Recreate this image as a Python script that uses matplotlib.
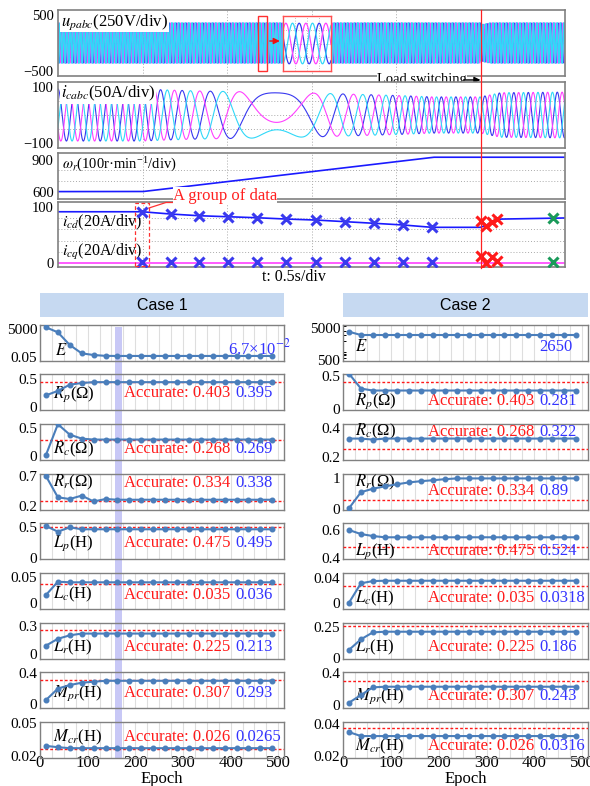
import numpy as np
import matplotlib
matplotlib.use('Agg')
import matplotlib.pyplot as plt
from matplotlib.patches import Rectangle
from matplotlib.lines import Line2D
from matplotlib.ticker import NullFormatter, LogLocator

plt.rcParams['font.family'] = ['Liberation Serif', 'DejaVu Serif']
plt.rcParams['mathtext.fontset'] = 'stix'

W, H = 590, 786

# ---------------- top: simulation waveforms ----------------
T_END = 3.0
T_SWITCH = 2.5
SPEED_T = [0.0, 0.5, 2.22, 3.0]
SPEED_N = [600, 600, 925, 925]
U_AMP = 355
U_FREQ = 50
U_ENV_T = [0.0, 2.5, 2.501, 2.56, 3.0]
U_ENV = [1.0, 1.0, 0.9, 1.0, 1.0]
ICD_T = [0.0, 0.497, 0.669, 0.834, 1.006, 1.178, 1.349, 1.527, 1.698,
         1.870, 2.041, 2.213, 2.5, 2.62, 3.0]
ICD_V = [91.6, 91.6, 87.5, 84.5, 82.7, 80.9, 78.6, 76.8, 73.9,
         71.0, 68.0, 63.8, 63.8, 78.5, 80.5]
BLUE_T = [0.497, 0.669, 0.834, 1.006, 1.178, 1.349, 1.527, 1.698, 1.870, 2.041, 2.213]
BLUE_CD = [91.6, 87.5, 84.5, 82.7, 80.9, 78.6, 76.8, 73.9, 71.0, 68.0, 63.8]
BLUE_CQ = [1.5, 1.5, 1.5, 1.5, 1.5, 1.5, 1.5, 1.5, 1.5, 1.5, 1.5]
RED_T = [2.501, 2.533, 2.566, 2.599]
RED_CD = [75.0, 66.3, 73.8, 78.6]
RED_CQ = [12.7, 0.8, 11.5, 4.3]
GREEN_T = [2.931]
GREEN_CD = [80.0]
GREEN_CQ = [2.0]

PH_COLORS = ['#3838f0', '#ff40ff', '#30d8f8']
PH_WIDTH = [0.55, 0.55, 1.1]
PH_SHIFT = [0.0, 2 * np.pi / 3, -2 * np.pi / 3]

# ---------------- bottom: parameter identification ----------------
EPOCHS = [12.5, 37.5, 62.5, 87.5, 112.5, 137.5, 162.5, 187.5, 212.5, 237.5,
          262.5, 287.5, 312.5, 337.5, 362.5, 387.5, 412.5, 437.5, 462.5, 487.5]
BAND_EPOCH = [158, 173]

NAMES = ['$E$', '$R_p$(Ω)', '$R_c$(Ω)', '$R_r$(Ω)', '$L_p$(H)', '$L_c$(H)',
         '$L_r$(H)', '$M_{pr}$(H)', '$M_{cr}$(H)']
ACCURATE = [None, '0.403', '0.268', '0.334', '0.475', '0.035', '0.225', '0.307', '0.026']
EST1 = ['6.7×10$^{-2}$', '0.395', '0.269', '0.338', '0.495', '0.036', '0.213', '0.293', '0.0265']
EST2 = ['2650', '0.281', '0.322', '0.89', '0.524', '0.0318', '0.186', '0.243', '0.0316']

E1 = [11700, 1420, 6.8, 0.2, 0.1, 0.07] + [0.067] * 14
RP1 = [0.21, 0.29, 0.40, 0.43] + [0.445] * 16
RC1 = [0.02, 0.565, 0.38, 0.31] + [0.293] * 16
RR1 = [0.70, 0.345, 0.317, 0.374, 0.276, 0.317] + [0.305] * 14
LP1 = [0.516, 0.424, 0.495] + [0.463] * 17
LC1 = [0.0154, 0.041] + [0.0398] * 18
LR1 = [0.089, 0.163, 0.2] + [0.219] * 17
MPR1 = [0.052, 0.2, 0.245, 0.275, 0.288] + [0.3] * 15
MCR1 = [0.0291, 0.0279] + [0.027] * 18

E2 = [3900] + [3080] * 19
RP2 = [0.53, 0.306] + [0.277] * 18
RC2 = [0.327, 0.327, 0.32] + [0.327] * 17
RR2 = [0.033, 0.553, 0.667, 0.743, 0.81, 0.87, 0.91, 0.94, 0.975] + [1.0] * 11
LP2 = [0.6, 0.571, 0.557] + [0.548] * 17
LC2 = [0.0, 0.0318, 0.0355] + [0.036] * 17
LR2 = [0.066, 0.15, 0.205] + [0.21] * 17
MPR2 = [0.029, 0.126, 0.223] + [0.231] * 17
MCR2 = [0.0351] + [0.0326] * 19

SERIES1 = [E1, RP1, RC1, RR1, LP1, LC1, LR1, MPR1, MCR1]
SERIES2 = [E2, RP2, RC2, RR2, LP2, LC2, LR2, MPR2, MCR2]
REF1 = [None, 0.45, 0.28, 0.29, 0.505, 0.0365, 0.256, 0.31, 0.0261]
REF2 = [None, 0.398, 0.258, 0.31, 0.476, 0.0274, 0.255, 0.303, 0.0379]
YLIM1 = [(0.008, 31000), (-0.05, 0.59), (-0.069, 0.569), (0.134, 0.734), (-0.02, 0.565),
         (-0.0115, 0.0577), (-0.055, 0.333), (-0.05, 0.413), (0.018, 0.051)]
YLIM2 = [(466, 6370), (-0.015, 0.525), (0.18, 0.427), (-0.023, 1.143), (0.393, 0.65),
         (-0.0103, 0.0487), (-0.006, 0.279), (-0.038, 0.417), (0.0187, 0.0415)]
YT1 = [(0.05, 5000), (0, 0.5), (0, 0.5), (0.2, 0.7), (0, 0.5), (0, 0.05), (0, 0.3), (0, 0.4), (0.02, 0.05)]
YTL1 = [('0.05', '5000'), ('0', '0.5'), ('0', '0.5'), ('0.2', '0.7'), ('0', '0.5'),
        ('0', '0.05'), ('0', '0.3'), ('0', '0.4'), ('0.02', '0.05')]
YT2 = [(500, 5000), (0, 0.5), (0.2, 0.4), (0, 1), (0.4, 0.6), (0, 0.04), (0, 0.25), (0, 0.4), (0.02, 0.04)]
YTL2 = [('500', '5000'), ('0', '0.5'), ('0.2', '0.4'), ('0', '1'), ('0.4', '0.6'),
        ('0', '0.04'), ('0', '0.25'), ('0', '0.4'), ('0.02', '0.04')]

# text placement (axes fraction)
LBL_Y1 = [0.28, 0.43, 0.30, 0.76, 0.44, 0.40, 0.32, 0.42, 0.58]
TXT_Y1 = [0.36, 0.47, 0.30, 0.74, 0.44, 0.40, 0.32, 0.42, 0.58]
LBL_Y2 = [0.39, 0.24, 0.79, 0.76, 0.21, 0.30, 0.33, 0.32, 0.32]
TXT_Y2 = [0.39, 0.24, 0.79, 0.54, 0.21, 0.30, 0.33, 0.32, 0.32]

LEFT_X = (40, 284)
RIGHT_X = (343, 588)
ROW_TOP = [325, 374, 424, 474, 523, 573, 623, 672, 722]
ROW_H = 36

LINE_BLUE = '#4a7ebb'
GRID_C = '#aaaaaa'
SPINE_C = '#808080'


def px_box(x0, y0, x1, y1):
    return [x0 / W, 1 - y1 / H, (x1 - x0) / W, (y1 - y0) / H]


fig = plt.figure(figsize=(W / 100, H / 100), dpi=100)
fig.patch.set_facecolor('white')


def scope_axes(box, ylim, yticks, ylabels, hgrid):
    ax = fig.add_axes(px_box(*box))
    ax.set_xlim(0, T_END)
    ax.set_ylim(*ylim)
    ax.set_xticks(np.arange(0.5, T_END, 0.5))
    ax.set_yticks(yticks)
    ax.set_yticklabels(ylabels, fontsize=10.5)
    ax.set_yticks(hgrid, minor=True)
    ax.tick_params(which='both', length=0, labelbottom=False, pad=3)
    ax.grid(which='major', axis='x', color=GRID_C, lw=0.7, ls=(0, (1, 2)))
    ax.grid(which='minor', axis='y', color=GRID_C, lw=0.7, ls=(0, (1, 2)))
    for s in ax.spines.values():
        s.set_color(SPINE_C)
        s.set_linewidth(1.2)
    return ax


t = np.linspace(0, T_END, 30001)
dt = t[1] - t[0]
speed = np.interp(t, SPEED_T, SPEED_N)
f_c = (speed - 750) / 15.0
theta_c = 2 * np.pi * np.cumsum(f_c) * dt
i_amp = np.interp(t, ICD_T, ICD_V)
u_env = np.interp(t, U_ENV_T, U_ENV)

# panel 1: grid voltage
ax1 = scope_axes((58, 10, 565, 76), (-580, 580), [-500, 500], ['−500', '500'], [-250, 0, 250])
for ph, c, lw in zip(PH_SHIFT, PH_COLORS, PH_WIDTH):
    ax1.plot(t, U_AMP * u_env * np.cos(2 * np.pi * U_FREQ * t - ph), color=c, lw=lw)
ax1.text(0.006, 0.97, '$u_{pabc}$(250V/div)', transform=ax1.transAxes, fontsize=12,
         va='top', ha='left', bbox=dict(fc='white', ec='none', pad=0.6), zorder=6)
ax1.add_patch(Rectangle((1.183, -490), 0.054, 965, fill=False, ec='#ff3030', lw=1.0, zorder=5))
ax1.annotate('', xy=(1.329, 35), xytext=(1.237, 35),
             arrowprops=dict(arrowstyle='-|>', color='#ee1010', lw=1.0, mutation_scale=9), zorder=6)

# zoomed inset
axin = fig.add_axes(px_box(283, 16, 331, 71))
tz = np.linspace(0, 0.048, 400)
for ph, c in zip(PH_SHIFT, PH_COLORS):
    axin.plot(tz, U_AMP * np.cos(2 * np.pi * U_FREQ * tz - ph + 1.2), color=c, lw=0.9)
axin.set_xlim(0, 0.048)
axin.set_ylim(-481, 481)
axin.set_xticks([0.012, 0.024, 0.036])
axin.set_yticks([-240, 0, 240])
axin.tick_params(length=0, labelbottom=False, labelleft=False)
axin.grid(color=GRID_C, lw=0.6, ls=(0, (1, 2)))
for s in axin.spines.values():
    s.set_color('#ff5050')
    s.set_linewidth(1.0)

# panel 2: control winding current
ax2 = scope_axes((58, 82, 565, 148), (-116, 116), [-100, 100], ['−100', '100'], [-50, 0, 50])
for ph, c in zip(PH_SHIFT, PH_COLORS):
    ax2.plot(t, i_amp * np.cos(theta_c - ph), color=c, lw=0.8)
ax2.text(0.006, 0.97, '$i_{cabc}$(50A/div)', transform=ax2.transAxes, fontsize=12,
         va='top', ha='left', bbox=dict(fc='white', ec='none', pad=0.6), zorder=6)

# load switching label
ax1.text(2.154, -0.06, 'Load switching', transform=ax1.get_xaxis_transform(), fontsize=10.5,
         ha='center', va='center', bbox=dict(fc='white', ec='none', pad=0.3), zorder=8, clip_on=False)
ax1.annotate('', xy=(T_SWITCH, -0.06), xytext=(2.40, -0.06),
             xycoords=ax1.get_xaxis_transform(), textcoords=ax1.get_xaxis_transform(),
             arrowprops=dict(arrowstyle='-|>', color='black', lw=1.0, mutation_scale=9,
                             shrinkA=0, shrinkB=0),
             annotation_clip=False, zorder=8)

# panel 3: rotor speed
ax3 = scope_axes((58, 153, 565, 199), (530, 965), [600, 900], ['600', '900'], [700, 800])
ax3.plot(t, speed, color='#1a1aff', lw=1.2)
ax3.text(0.008, 0.78, r'$\omega_r$(100r·min$^{\mathregular{-1}}$/div)', transform=ax3.transAxes,
         fontsize=10.5, va='center', ha='left')

# panel 4: dq currents
ax4 = scope_axes((58, 202, 565, 267), (-7, 109), [0, 100], ['0', '100'], [20, 40, 60, 80])
ax4.plot(ICD_T, ICD_V, color='#1a1aff', lw=1.2)
ax4.axhline(0, color='#ff40ff', lw=1.2)
xkw = dict(marker='x', ls='none', ms=6.5, mew=2.2, zorder=5)
ax4.plot(BLUE_T, BLUE_CD, color='#3a3aee', **xkw)
ax4.plot(BLUE_T, BLUE_CQ, color='#3a3aee', **xkw)
ax4.plot(RED_T, RED_CD, color='#ff1a1a', **xkw)
ax4.plot(RED_T, RED_CQ, color='#ff1a1a', **xkw)
ax4.plot(GREEN_T, GREEN_CD, color='#1a9a5a', **xkw)
ax4.plot(GREEN_T, GREEN_CQ, color='#1a9a5a', **xkw)
ax4.text(0.008, 0.68, '$i_{cd}$(20A/div)', transform=ax4.transAxes, fontsize=11.5, va='center')
ax4.text(0.008, 0.23, '$i_{cq}$(20A/div)', transform=ax4.transAxes, fontsize=11.5, va='center')
ax4.add_patch(Rectangle((0.456, -5.4), 0.082, 112.4, fill=False, ec='#ff3030', lw=0.9,
                        ls=(0, (3, 2)), clip_on=False, zorder=6))
ax4.plot([0.538, 0.639, 1.278], [98.3, 108.1, 108.1], color='#ff3030', lw=0.9,
         clip_on=False, zorder=7)
ax4.text(0.988, 1.1, 'A group of data', transform=ax4.get_xaxis_transform(), fontsize=12,
         color='#ff2020', ha='center', va='center',
         bbox=dict(fc='white', ec='none', pad=0.3), zorder=7)
fig.text(294 / W, 1 - 277 / H, 't: 0.5s/div', ha='center', va='center', fontsize=11.5)

# red switching line through all scope panels
xs = fig.transFigure.inverted().transform(ax1.transData.transform((T_SWITCH, 0)))[0]
fig.add_artist(Line2D([xs, xs], [1 - 10 / H, 1 - 268 / H], transform=fig.transFigure,
                      color='#ff2020', lw=0.9, zorder=9))

# ---------------- bottom panels ----------------
for (x0, x1), title in [(LEFT_X, 'Case 1'), (RIGHT_X, 'Case 2')]:
    fig.add_artist(Rectangle((x0 / W, 1 - 317 / H), (x1 - x0) / W, 24 / H,
                             transform=fig.transFigure, fc='#c6d9f1', ec='none'))
    fig.text((x0 + x1) / 2 / W, 1 - 305 / H, title, ha='center', va='center',
             fontsize=11.5, family='Liberation Sans')


def param_axes(xr, row, vals, ref, ylim, yt, ytl, name, acc, est, lbl_y, txt_y, last, lbl_x):
    ax = fig.add_axes(px_box(xr[0], ROW_TOP[row], xr[1], ROW_TOP[row] + ROW_H))
    ax.set_facecolor('none')
    ax.set_xlim(0, 512)
    if row == 0:
        ax.set_yscale('log')
        ax.yaxis.set_minor_locator(LogLocator(subs=np.arange(2, 10)))
        ax.yaxis.set_minor_formatter(NullFormatter())
        ax.tick_params(axis='y', which='minor', length=2.5, direction='in', width=0.7, color='black')
    ax.set_ylim(*ylim)
    ax.set_yticks(yt)
    ax.set_yticklabels(ytl, fontsize=11)
    ax.set_xticks(np.arange(0, 501, 100))
    ax.set_xticks(np.arange(25, 512, 25), minor=True)
    ax.tick_params(axis='x', which='both', length=0, labelbottom=last, labelsize=12, pad=-2)
    ax.tick_params(axis='y', which='major', length=0, pad=2)
    ax.grid(which='both', axis='x', color='#dedede', lw=0.8)
    for s in ax.spines.values():
        s.set_color(SPINE_C)
        s.set_linewidth(1.0)
    if ref is not None:
        ax.axhline(ref, color='#ff1a1a', lw=1.0, ls=(0, (2, 1.5)), zorder=3)
    ax.plot(EPOCHS, vals, '-o', color=LINE_BLUE, lw=1.5, ms=3.3, zorder=4)
    ax.text(lbl_x, lbl_y, name, transform=ax.transAxes, fontsize=12, va='center', ha='left')
    if acc is not None:
        ax.text(0.345, txt_y, 'Accurate: ' + acc, transform=ax.transAxes, fontsize=12,
                color='#ff1a1a', va='center', ha='left')
    ax.text(0.80 if row else (0.77 if xr == LEFT_X else 0.80), txt_y, est,
            transform=ax.transAxes, fontsize=12, color='#3333ff', va='center', ha='left')
    if last:
        ax.text(0.5, -0.575, 'Epoch', transform=ax.transAxes, fontsize=12,
                ha='center', va='center')
    return ax


left_axes = []
for r in range(9):
    left_axes.append(param_axes(LEFT_X, r, SERIES1[r], REF1[r], YLIM1[r], YT1[r], YTL1[r],
                                NAMES[r], ACCURATE[r], EST1[r], LBL_Y1[r], TXT_Y1[r], r == 8,
                                0.06 if r == 0 else 0.055))
    param_axes(RIGHT_X, r, SERIES2[r], REF2[r], YLIM2[r], YT2[r], YTL2[r],
               NAMES[r], ACCURATE[r], EST2[r], LBL_Y2[r], TXT_Y2[r], r == 8, 0.05)

# highlighted epoch band in case 1
bx0 = fig.transFigure.inverted().transform(left_axes[0].transData.transform((BAND_EPOCH[0], 1)))[0]
bx1 = fig.transFigure.inverted().transform(left_axes[0].transData.transform((BAND_EPOCH[1], 1)))[0]
fig.add_artist(Rectangle((bx0, 1 - 759 / H), bx1 - bx0, (759 - 327) / H,
                         transform=fig.transFigure, fc='#c8c8f6', ec='none', zorder=-1))

fig.savefig('out.png', dpi=100, facecolor='white')
